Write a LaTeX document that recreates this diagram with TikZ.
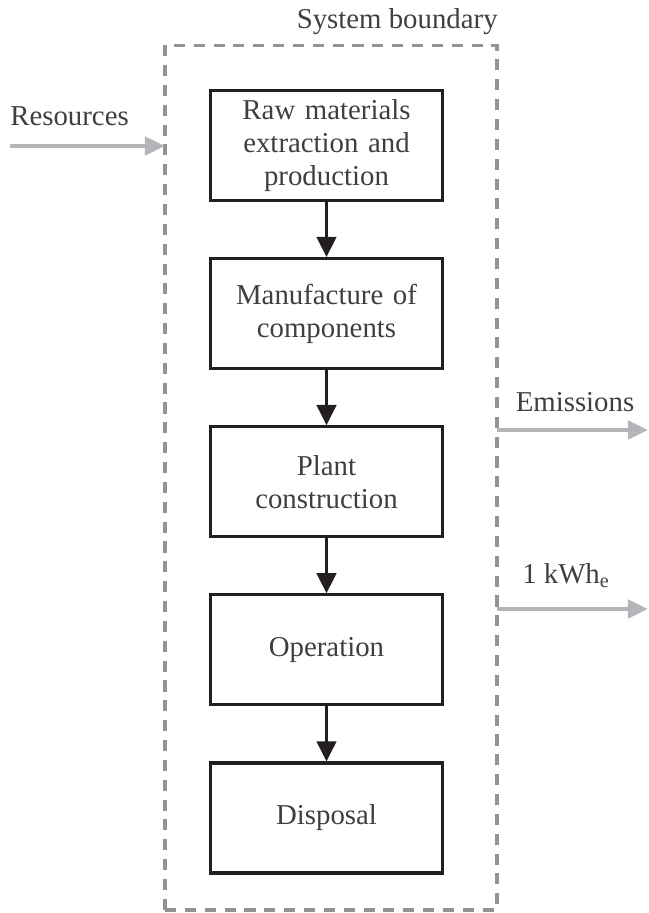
\documentclass[tikz,border=0pt]{standalone}
\usepackage{fontspec}
\setmainfont{Liberation Serif}
\usepackage{xcolor}
\usetikzlibrary{positioning,arrows.meta}

\definecolor{txtgray}{HTML}{3F3F3F}
\definecolor{boxblack}{HTML}{231F20}
\definecolor{dashgray}{HTML}{939393}
\definecolor{flowgray}{HTML}{B4B5B8}

\begin{document}
\begin{tikzpicture}[x=0.02cm, y=-0.02cm, font=\fontsize{16.4pt}{18.7pt}\selectfont, text=txtgray, node distance=1.1cm]
%style for life cycle stage box
\tikzset{stagebox/.style={rectangle, draw=boxblack, line width=1.8pt, minimum width=4.64cm, minimum height=2.2cm, text width=4.3cm, align=center}}

%style for system boundary
\tikzset{boundbox/.style={rectangle, draw=dashgray, line width=1.8pt, dash pattern=on 6.3pt off 5pt, minimum width=6.64cm, minimum height=17.3cm, outer sep=0pt}}

%style for labels and arrows
\tikzset{lbl/.style={inner sep=0pt}}
\tikzset{stagearrow/.style={draw=boxblack, line width=2pt, -{Triangle[length=11.5pt, width=11pt]}}}
\tikzset{flow/.style={draw=flowgray, line width=2.2pt, -{Triangle[length=11.5pt, width=10.5pt]}}}

\useasboundingbox (0,0) rectangle (649,913);

%place nodes
\node[boundbox](bound) at (331,477.5) {};
\node[stagebox](raw) at (326.5,145.5) {Raw materials\\extraction and\\production};
\node[stagebox, below=of raw](manuf) {Manufacture of\\components};
\node[stagebox, below=of manuf](constr) {Plant\\construction};
\node[stagebox, below=of constr](oper) {Operation};
\node[stagebox, below=of oper](disp) {Disposal};

\node[lbl, anchor=base east](syslbl) at (498,28) {System boundary};
\node[lbl, anchor=base west](reslbl) at (10,125) {Resources};
\node[lbl, anchor=base](emlbl) at (575,411) {Emissions};
\node[lbl, anchor=base](kwhlbl) at (566,583) {1 kWh\textsubscript{e}};

\coordinate (resin) at (10,146);
\coordinate (emout) at (648,430);
\coordinate (kwhout) at (648,609);

%connect nodes with arrows
\draw[stagearrow] (raw) -- (manuf);
\draw[stagearrow] (manuf) -- (constr);
\draw[stagearrow] (constr) -- (oper);
\draw[stagearrow] (oper) -- (disp);
\draw[flow] (resin) -- (resin -| bound.west);
\draw[flow] (emout -| bound.east) -- (emout);
\draw[flow] (kwhout -| bound.east) -- (kwhout);
\end{tikzpicture}
\end{document}
